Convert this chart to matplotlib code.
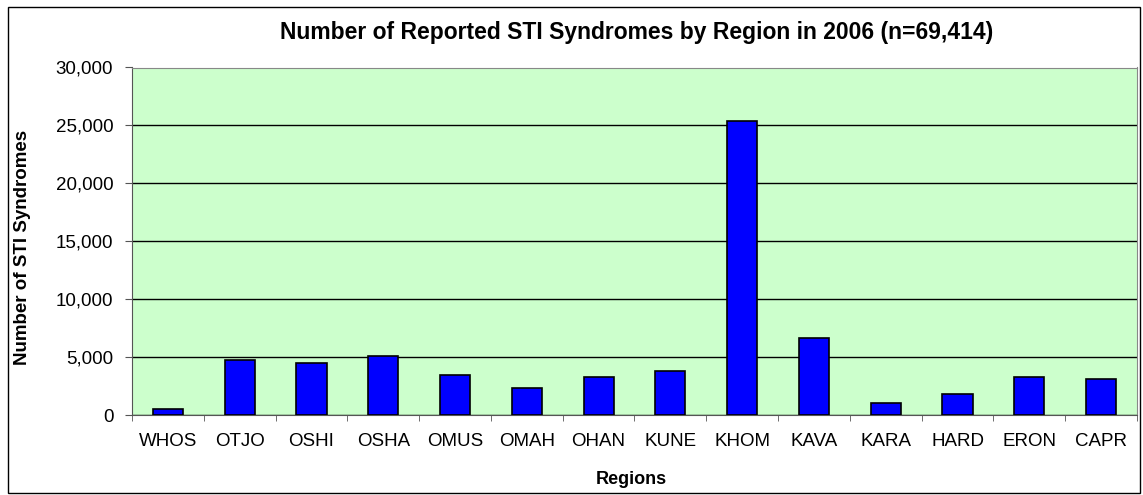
import numpy as np
import matplotlib.pyplot as plt
from matplotlib.ticker import FuncFormatter
from matplotlib.patches import Rectangle

regions = ['WHOS', 'OTJO', 'OSHI', 'OSHA', 'OMUS', 'OMAH', 'OHAN',
           'KUNE', 'KHOM', 'KAVA', 'KARA', 'HARD', 'ERON', 'CAPR']
cases = [550, 4740, 4500, 5130, 3460, 2360, 3290,
         3770, 25360, 6680, 1010, 1810, 3280, 3140]
yticks = [0, 5000, 10000, 15000, 20000, 25000, 30000]

plt.rcParams['font.family'] = ['Liberation Sans', 'DejaVu Sans']

W, H = 1143, 495
fig = plt.figure(figsize=(W / 100, H / 100), dpi=100)
ax = fig.add_axes([132 / W, 1 - 415 / H, (1137 - 132) / W, (415 - 67.5) / H])

x = np.arange(len(regions))
ax.bar(x, cases, width=0.42, color='#0000FF', edgecolor='black', linewidth=1.2, zorder=3)

ax.set_facecolor('#CCFFCC')
ax.set_xlim(-0.5, len(regions) - 0.5)
ax.set_ylim(0, 30000)
ax.set_yticks(yticks)
ax.yaxis.set_major_formatter(FuncFormatter(lambda v, p: '{:,.0f}'.format(v)))
ax.grid(axis='y', color='black', linewidth=1.0, zorder=1)
ax.set_axisbelow(True)

ax.set_xticks(x)
ax.set_xticklabels(regions)
ax.set_xticks(np.arange(len(regions) + 1) - 0.5, minor=True)
ax.tick_params(axis='x', which='major', length=0, pad=13, labelsize=13.5)
ax.tick_params(axis='x', which='minor', length=4.3, direction='out', color='#555555')
ax.tick_params(axis='y', length=5, direction='out', labelsize=13.5, pad=8.5, color='#555555')

for side in ['top', 'right']:
    ax.spines[side].set_color('#888888')
ax.spines['left'].set_color('#555555')
ax.spines['bottom'].set_color('#555555')

fig.text(631 / W, 1 - 480 / H, 'Regions', fontsize=13, fontweight='bold',
         ha='center', va='center')
fig.text(23 / W, 1 - 247 / H, 'Number of STI Syndromes', fontsize=13.5, fontweight='bold',
         ha='center', va='center', rotation=90)
fig.text(637 / W, 1 - 33 / H, 'Number of Reported STI Syndromes by Region in 2006 (n=69,414)',
         fontsize=16.5, fontweight='bold', ha='center', va='center')

fig.patches.append(Rectangle((8 / W, 2 / H), 1132 / W, 486 / H, transform=fig.transFigure,
                             fill=False, edgecolor='black', linewidth=1))

fig.savefig('out.png', dpi=100)
